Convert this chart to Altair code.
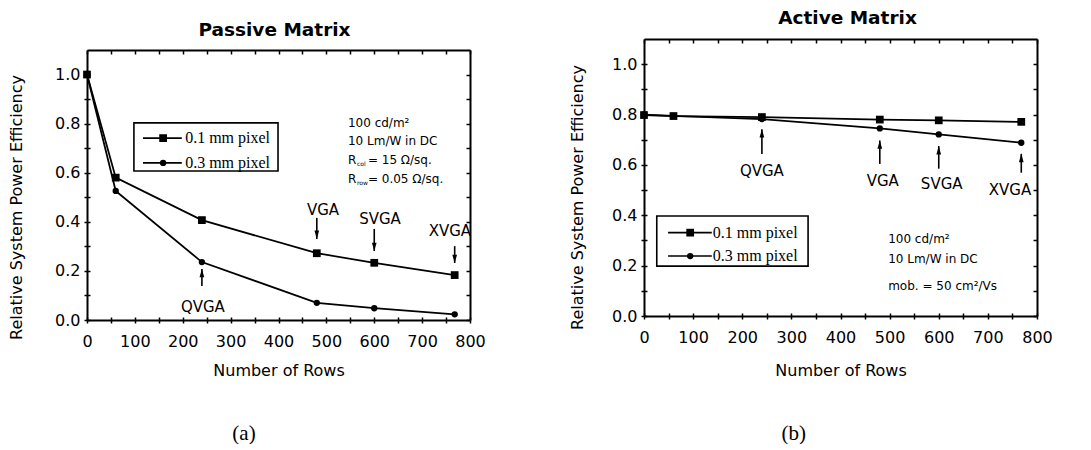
import altair as alt
import pandas as pd

SANS = "DejaVu Sans"
SERIF = "Liberation Serif"

# ---------------- data ----------------
rows = [0, 60, 240, 480, 600, 768]
series_names = ["0.1 mm pixel", "0.3 mm pixel"]

passive_01 = [1.0, 0.58, 0.407, 0.272, 0.233, 0.183]
passive_03 = [1.0, 0.526, 0.236, 0.070, 0.048, 0.023]
active_01 = [0.798, 0.794, 0.790, 0.780, 0.777, 0.771]
active_03 = [0.800, 0.795, 0.782, 0.745, 0.721, 0.688]

format_names = ["QVGA", "VGA", "SVGA", "XVGA"]
format_rows = [240, 480, 600, 768]

passive_arrow_tail = [0.139, 0.416, 0.371, 0.301]
passive_arrow_head = [0.208, 0.330, 0.281, 0.232]
passive_label_x = [242, 493, 612, 758]
passive_label_y = [0.053, 0.448, 0.411, 0.363]

active_arrow_tail = [0.643, 0.604, 0.585, 0.569]
active_arrow_head = [0.742, 0.697, 0.675, 0.644]
active_label_x = [240, 486, 606, 745]
active_label_y = [0.575, 0.535, 0.525, 0.500]

x_ticks = list(range(0, 801, 50))
y_ticks = [round(i * 0.1, 1) for i in range(11)]

DOWN = "M-0.7,-2.5L0.7,-2.5L0,0Z"
UP = "M-0.7,2.5L0.7,2.5L0,0Z"

passive_cfg = dict(
    title="Passive Matrix", title_offset=0, title_dx=-4,
    W=383, H=281, yrange=[281, 11], top_off=11,
    x_title_y=50, y_title_x=-71, y_title_y=168,
    box=(98, 399, 0.607, 0.803),
    leg_y=[0.741, 0.640], leg_lx1=117, leg_lx2=198, leg_mx=159, leg_tx=205,
    info_x=545,
    info_plain=[("100 cd/m²", 0.804), ("10 Lm/W in DC", 0.729)],
    info_r=[("col", "= 15 Ω/sq.", 0.651), ("row", "= 0.05 Ω/sq.", 0.573)],
    caption="(a)", cap_x=328, cap_y=-0.464,
)
active_cfg = dict(
    title="Active Matrix", title_offset=11, title_dx=7,
    W=393, H=277, yrange=None, top_off=0,
    x_title_y=54, y_title_x=-67, y_title_y=158,
    box=(26, 334, 0.198, 0.397),
    leg_y=[0.331, 0.238], leg_lx1=49, leg_lx2=138, leg_mx=94, leg_tx=140,
    info_x=497,
    info_plain=[("100 cd/m²", 0.305), ("10 Lm/W in DC", 0.226), ("mob. = 50 cm²/Vs", 0.119)],
    info_r=[],
    caption="(b)", cap_x=305, cap_y=-0.468,
)


def make_panel(cfg, v01, v03, tails, heads, lab_x, lab_y):
    W, H = cfg["W"], cfg["H"]
    xs = alt.Scale(domain=[0, 800], nice=False, zero=False)
    ykw = dict(domain=[0, 1.1], nice=False, zero=False)
    if cfg["yrange"]:
        ykw["range"] = cfg["yrange"]
    ys = alt.Scale(**ykw)

    def X(f, axis=None):
        return alt.X(f, type="quantitative", scale=xs, axis=axis)

    def Y(f, axis=None):
        return alt.Y(f, type="quantitative", scale=ys, axis=axis)

    df = pd.DataFrame({
        "rows": rows * 2,
        "value": v01 + v03,
        "series": [series_names[0]] * len(rows) + [series_names[1]] * len(rows),
    })

    common = dict(grid=False, domainColor="black", tickColor="black", labelColor="black",
                  titleColor="black")
    ax_b = alt.Axis(orient="bottom", values=x_ticks,
                    labelExpr="datum.value % 100 == 0 ? datum.label : ''",
                    tickSize=3, tickWidth=1.5, domainWidth=2,
                    labelFont=SANS, labelFontSize=16, labelPadding=10,
                    labelFlush=False, labelOverlap=False,
                    title="Number of Rows", titleFont=SANS, titleFontSize=16,
                    titleFontWeight="normal", titleY=cfg["x_title_y"],
                    titleBaseline="middle", titleAlign="center", **common)
    ax_l = alt.Axis(orient="left", values=y_ticks,
                    labelExpr="round(datum.value * 10) % 2 == 0 ? format(datum.value, '.1f') : ''",
                    tickSize=3, tickWidth=1.5, domainWidth=2,
                    labelFont=SANS, labelFontSize=16, labelPadding=4,
                    labelFlush=False, labelOverlap=False,
                    title="Relative System Power Efficiency", titleFont=SANS,
                    titleFontSize=16, titleFontWeight="normal",
                    titleX=cfg["y_title_x"], titleY=cfg["y_title_y"],
                    titleBaseline="middle", titleAlign="center", **common)
    ax_t = alt.Axis(orient="top", offset=-cfg["top_off"], ticks=False, labels=False,
                    domainWidth=2, title=None, **common)
    ax_r = alt.Axis(orient="right", ticks=False, labels=False, domainWidth=2,
                    title=None, **common)
    ax_bi = alt.Axis(orient="bottom", offset=-3, values=x_ticks, domain=False,
                     labels=False, tickSize=3, tickWidth=1.5, title=None, **common)
    ax_li = alt.Axis(orient="left", offset=-3, values=y_ticks, domain=False,
                     labels=False, tickSize=3, tickWidth=1.5, title=None, **common)
    ax_ti = alt.Axis(orient="top", offset=-(cfg["top_off"] + 4), values=x_ticks,
                     domain=False, labels=False, tickSize=4, tickWidth=1.5,
                     title=None, **common)
    ax_ri = alt.Axis(orient="right", offset=-4, values=y_ticks, domain=False,
                     labels=False, tickSize=4, tickWidth=1.5, title=None, **common)

    base = alt.Chart(df)
    layers = []
    for axx, axy in [(ax_b, ax_l), (ax_t, ax_r), (ax_bi, ax_li), (ax_ti, ax_ri)]:
        layers.append(base.mark_point(opacity=0).encode(x=X("rows", axx), y=Y("value", axy)))

    layers.append(base.mark_line(color="black", strokeWidth=1.8).encode(
        x=X("rows"), y=Y("value"), detail="series:N"))
    for s, shp, sz in [(series_names[0], "square", 60), (series_names[1], "circle", 40)]:
        layers.append(base.transform_filter(alt.datum.series == s).mark_point(
            filled=True, color="black", opacity=1, shape=shp, size=sz).encode(
            x=X("rows"), y=Y("value")))

    adf = pd.DataFrame({
        "x": format_rows, "tail": tails, "head": heads,
        "dir": ["up" if h > t else "down" for t, h in zip(tails, heads)],
        "lx": lab_x, "ly": lab_y, "label": format_names,
    })
    ac = alt.Chart(adf)
    layers.append(ac.mark_rule(color="black", strokeWidth=1.6).encode(
        x=X("x"), y=Y("tail"), y2="head"))
    layers.append(ac.mark_point(filled=True, color="black", opacity=1, size=45,
                                strokeWidth=0).encode(
        x=X("x"), y=Y("head"),
        shape=alt.Shape("dir:N", scale=alt.Scale(domain=["down", "up"], range=[DOWN, UP]),
                        legend=None)))
    layers.append(ac.mark_text(font=SANS, fontSize=15, color="black",
                               align="center", baseline="middle").encode(
        x=X("lx"), y=Y("ly"), text="label:N"))

    bx1, bx2, by1, by2 = cfg["box"]
    bdf = pd.DataFrame({"x1": [bx1], "x2": [bx2], "y1": [by1], "y2": [by2]})
    layers.append(alt.Chart(bdf).mark_rect(fill="white", stroke="black", strokeWidth=1.6).encode(
        x=X("x1"), x2="x2", y=Y("y1"), y2="y2"))
    ldf = pd.DataFrame({
        "series": series_names, "ly": cfg["leg_y"],
        "lx1": [cfg["leg_lx1"]] * 2, "lx2": [cfg["leg_lx2"]] * 2,
        "mx": [cfg["leg_mx"]] * 2, "tx": [cfg["leg_tx"]] * 2,
    })
    lc = alt.Chart(ldf)
    layers.append(lc.mark_rule(color="black", strokeWidth=1.6).encode(
        x=X("lx1"), x2="lx2", y=Y("ly")))
    for s, shp, sz in [(series_names[0], "square", 60), (series_names[1], "circle", 40)]:
        layers.append(lc.transform_filter(alt.datum.series == s).mark_point(
            filled=True, color="black", opacity=1, shape=shp, size=sz).encode(
            x=X("mx"), y=Y("ly")))
    layers.append(lc.mark_text(font=SERIF, fontSize=16, color="black", align="left",
                               baseline="middle").encode(
        x=X("tx"), y=Y("ly"), text="series:N"))

    idf = pd.DataFrame({"t": [t for t, _ in cfg["info_plain"]],
                        "y": [y for _, y in cfg["info_plain"]],
                        "x": [cfg["info_x"]] * len(cfg["info_plain"])})
    layers.append(alt.Chart(idf).mark_text(font=SANS, fontSize=12, color="black",
                                           align="left", baseline="middle").encode(
        x=X("x"), y=Y("y"), text="t:N"))
    if cfg["info_r"]:
        rdf = pd.DataFrame({"sub": [a for a, _, _ in cfg["info_r"]],
                            "rest": [b for _, b, _ in cfg["info_r"]],
                            "y": [c for _, _, c in cfg["info_r"]],
                            "R": ["R"] * len(cfg["info_r"]),
                            "x": [cfg["info_x"]] * len(cfg["info_r"])})
        rc = alt.Chart(rdf)
        layers.append(rc.mark_text(font=SANS, fontSize=12, color="black", align="left",
                                   baseline="middle").encode(x=X("x"), y=Y("y"), text="R:N"))
        layers.append(rc.mark_text(font=SANS, fontSize=6, color="black", align="left",
                                   baseline="middle", dx=9, dy=4).encode(
            x=X("x"), y=Y("y"), text="sub:N"))
        layers.append(rc.mark_text(font=SANS, fontSize=12, color="black", align="left",
                                   baseline="middle", dx=20).encode(
            x=X("x"), y=Y("y"), text="rest:N"))

    cdf = pd.DataFrame({"x": [cfg["cap_x"]], "y": [cfg["cap_y"]], "t": [cfg["caption"]]})
    layers.append(alt.Chart(cdf).mark_text(font=SERIF, fontSize=21, color="black",
                                           align="center", baseline="middle").encode(
        x=X("x"), y=Y("y"), text="t:N"))

    return alt.layer(*layers).resolve_scale(x="independent", y="independent").properties(
        width=W, height=H,
        title=alt.TitleParams(cfg["title"], font=SANS, fontSize=18.5, fontWeight="bold",
                              color="black", anchor="middle", frame="group",
                              offset=cfg["title_offset"], dx=cfg["title_dx"]))


left = make_panel(passive_cfg, passive_01, passive_03, passive_arrow_tail,
                  passive_arrow_head, passive_label_x, passive_label_y)
right = make_panel(active_cfg, active_01, active_03, active_arrow_tail,
                   active_arrow_head, active_label_x, active_label_y)

chart = alt.hconcat(left, right, spacing=83).properties(
    padding={"left": 0, "top": 0, "right": 0, "bottom": 0},
    background="white",
).configure_view(stroke=None)

chart.save("out.html", embed_options={"renderer": "svg", "actions": False})
